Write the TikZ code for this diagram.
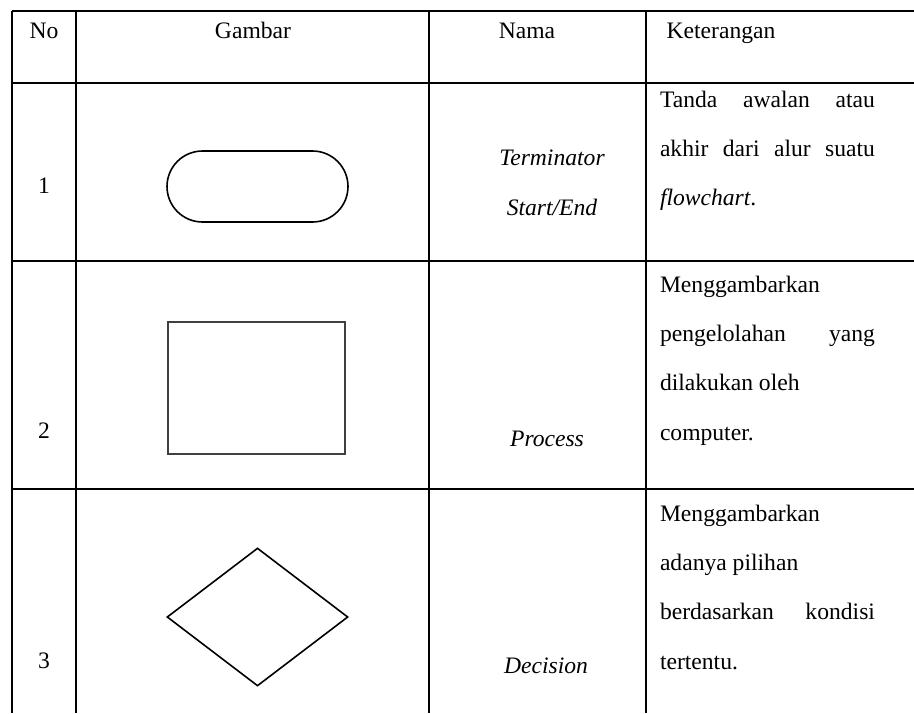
\documentclass[tikz,border=0pt]{standalone}
\usepackage{fontspec}
\setmainfont{Liberation Serif}
\usetikzlibrary{positioning,shapes.geometric}

\begin{document}
\begin{tikzpicture}[x =1pt ,y =-1pt ,line width =2pt ,
txt/.style ={font =\fontsize{23.6}{49.3}\selectfont ,inner sep =0pt},
ket/.style ={txt ,text width =215pt ,align =justify ,anchor =north west},
nama/.style ={txt ,font =\fontsize{23.6}{49.3}\selectfont\itshape ,align =center ,anchor =base},
term/.style ={draw ,line width =1.6pt ,rounded corners =35.5pt ,
minimum width =181pt ,minimum height =71pt ,inner sep =0pt},
proc/.style ={draw =black!75 ,line width =1.4pt ,
minimum width =177pt ,minimum height =132pt ,inner sep =0pt},
dec/.style ={diamond ,draw ,line width =1.6pt ,
minimum width =181pt ,minimum height =138pt ,inner sep =0pt}]
\useasboundingbox (0,0) rectangle (914,713);
% table lines
\draw (12,11) -- (914,11);
\draw (12,83) -- (914,83);
\draw (12,261) -- (914,261);
\draw (12,489) -- (914,489);
\draw (12,11) -- (12,713);
\draw (76,11) -- (76,713);
\draw (429,11) -- (429,713);
\draw (646,11) -- (646,713);
% header
\node[txt ,anchor =base] (hno) at (44,38) {No};
\node[txt ,anchor =base] (hgb) at (253,38) {Gambar};
\node[txt ,anchor =base] (hnm) at (527,38) {Nama};
\node[txt ,anchor =base] (hkt) at (721,38) {Keterangan};
% row 1
\node[txt ,anchor =base] (n1) at (44,193) {1};
\node[term] (T) at (257.5,186.5) {};
\node[nama] (nm1) at (552,215) {Terminator\\Start/End};
\node[ket] (k1) at (659,90) {Tanda awalan atau\linebreak akhir dari alur suatu\linebreak \textit{flowchart}.};
% row 2
\node[txt ,anchor =base] (n2) at (44,438) {2};
\node[proc] (P) at (256.5,388) {};
\node[nama] (nm2) at (547,446) {Process};
\node[ket] (k2) at (659,275) {Menggambarkan\\pengelolahan yang\linebreak dilakukan oleh\\computer.};
% row 3
\node[txt ,anchor =base] (n3) at (44,668) {3};
\node[dec] (D) at (257.5,617) {};
\node[nama] (nm3) at (546,673) {Decision};
\node[ket] (k3) at (659,504) {Menggambarkan\\adanya pilihan\\berdasarkan kondisi\linebreak tertentu.};
\end{tikzpicture}
\end{document}
